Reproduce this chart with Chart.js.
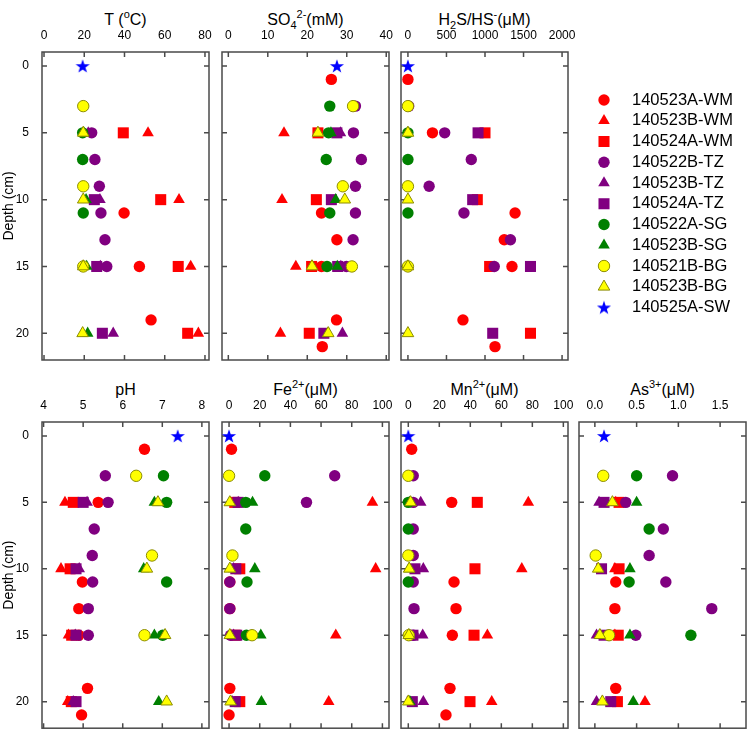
<!DOCTYPE html>
<html>
<head>
<meta charset="utf-8">
<title>Porewater profiles</title>
<script src="https://cdn.jsdelivr.net/npm/chart.js@4.4.1/dist/chart.umd.min.js"></script>
<style>
html, body { margin: 0; padding: 0; background: #fff; overflow: hidden; }
body { width: 750px; height: 736px; position: relative; font-family: "Liberation Sans", Arial, sans-serif; }
canvas { position: absolute; }
.ttl { position: absolute; width: 167px; text-align: center; font-size: 16px; line-height: 20px; color: #000; white-space: nowrap; }
.ttl sup, .ttl sub { font-size: 11px; line-height: 0; position: relative; vertical-align: baseline; }
.ttl sup { top: -7px; }
.ttl sub { top: 4px; }
</style>
</head>
<body>
<div class="ttl" style="left:42px;top:10px">T (<sup>o</sup>C)</div>
<div class="ttl" style="left:222px;top:10px">SO<sub>4</sub><sup>2-</sup>(mM)</div>
<div class="ttl" style="left:401px;top:10px">H<sub>2</sub>S/HS<sup>-</sup>(μM)</div>
<div class="ttl" style="left:42px;top:380px">pH</div>
<div class="ttl" style="left:222px;top:380px">Fe<sup>2+</sup>(μM)</div>
<div class="ttl" style="left:401px;top:380px">Mn<sup>2+</sup>(μM)</div>
<div class="ttl" style="left:579px;top:380px">As<sup>3+</sup>(μM)</div>

<canvas id="cT"></canvas>
<canvas id="cSO4"></canvas>
<canvas id="cH2S"></canvas>
<canvas id="cPH"></canvas>
<canvas id="cFe"></canvas>
<canvas id="cMn"></canvas>
<canvas id="cAs"></canvas>

<script>
// series (same order as the legend)
const seriesNames = ["140523A-WM", "140523B-WM", "140524A-WM", "140522B-TZ", "140523B-TZ",
  "140524A-TZ", "140522A-SG", "140523B-SG", "140521B-BG", "140523B-BG", "140525A-SW"];

// each panel: one list of [depth cm, value] per series
const tempPts = [
  [[11, 39.8], [15, 47.4], [19, 53.2]],
  [[5, 51.7], [10, 67.1], [15, 72.9], [20, 76.7]],
  [[5, 39.4], [10, 58], [15, 66.7], [20, 71.4]],
  [[5, 23.7], [7, 25.3], [9, 27.5], [11, 28.3], [13, 30.3], [15, 31.2]],
  [[5, 22], [10, 27.8], [15, 28], [20, 34.4]],
  [[10, 25], [15, 26.2], [20, 29]],
  [[5, 19.2], [7, 19.2], [11, 19.5]],
  [[5, 19.8], [10, 20.9], [15, 21.2], [20, 21.7]],
  [[3, 19.5], [9, 19.5], [15, 19.5]],
  [[5, 19.5], [10, 19.5], [15, 19.5], [20, 19.2]],
  [[0, 19.2]]
];
const so4Pts = [
  [[1, 26.1], [11, 23.6], [13, 27.5], [15, 23.6], [19, 27.4], [21, 23.8]],
  [[5, 14.1], [10, 13.6], [15, 17.1], [20, 13.2]],
  [[5, 22.7], [10, 22.3], [15, 21.1], [20, 20.5]],
  [[3, 32.2], [5, 31.7], [7, 33.7], [9, 32.2], [11, 32.2], [13, 31.6], [15, 29.9]],
  [[5, 28.4], [15, 28.5], [20, 28.9]],
  [[5, 27.5], [10, 26.1], [15, 27.7], [20, 24.2]],
  [[3, 25.7], [5, 25.4], [7, 24.8], [11, 25.7], [15, 25]],
  [[5, 26], [10, 27.2], [15, 27.6]],
  [[3, 31.6], [9, 29], [15, 31.3]],
  [[5, 22.7], [10, 29.5], [15, 21.2], [20, 25.3]],
  [[0, 27.5]]
];
const h2sPts = [
  [[1, 0], [5, 318], [11, 1390], [13, 1250], [15, 1350], [19, 714], [21, 1130]],
  [],
  [[5, 1000], [10, 900], [15, 1060], [20, 1590]],
  [[3, 10], [5, 477], [7, 822], [9, 275], [11, 727], [13, 1330], [15, 1120]],
  [],
  [[5, 910], [10, 840], [15, 1590], [20, 1100]],
  [[5, 0], [7, 0], [11, 0]],
  [[5, 0]],
  [[3, 0], [9, 0], [15, 0]],
  [[5, 0], [10, 0], [15, 0], [20, 0]],
  [[0, 0]]
];
const phPts = [
  [[1, 6.55], [5, 5.38], [11, 4.98], [13, 4.89], [15, 4.89], [19, 5.11], [21, 4.96]],
  [[5, 4.54], [10, 4.44], [15, 4.63], [20, 4.61]],
  [[5, 4.75], [10, 4.67], [15, 4.71], [20, 4.7]],
  [[3, 5.56], [5, 5.63], [7, 5.28], [9, 5.23], [11, 5.24], [13, 5.13], [15, 5.13]],
  [[5, 5.1], [10, 4.9], [15, 4.8], [20, 4.75]],
  [[5, 5.0], [10, 4.82], [15, 4.82], [20, 4.82]],
  [[3, 7.03], [5, 7.11], [11, 7.11], [15, 7.01]],
  [[5, 6.8], [10, 6.53], [15, 6.8], [20, 6.91]],
  [[3, 6.34], [9, 6.74], [15, 6.55]],
  [[5, 6.89], [10, 6.61], [15, 7.07], [20, 7.11]],
  [[0, 7.39]]
];
const fePts = [
  [[1, 1.6], [11, 0.5], [13, 0.5], [19, 0.5], [21, 0]],
  [[5, 93.5], [10, 95.6], [15, 69.6], [20, 65]],
  [[5, 3.7], [10, 7], [15, 4], [20, 7]],
  [[3, 68.9], [5, 50.5], [11, 0.5], [13, 0.5], [15, 1]],
  [[5, 6], [10, 3], [15, 3], [20, 2]],
  [[5, 5.9], [10, 4.4], [15, 5], [20, 4]],
  [[3, 23.3], [5, 10.9], [7, 10.9], [11, 11.7], [15, 11.3]],
  [[5, 15.3], [10, 16.8], [15, 20.7], [20, 21.1]],
  [[3, 0], [9, 2.2], [15, 15]],
  [[5, 0.5], [10, 0.5], [15, 0.5], [20, 1]],
  [[0, 0]]
];
const mnPts = [
  [[1, 2.2], [5, 28], [11, 29.5], [13, 30.8], [15, 28.4], [19, 26.9], [21, 24.3]],
  [[5, 77.4], [10, 73.2], [15, 51], [20, 53.8]],
  [[5, 44.5], [10, 43], [15, 42.4], [20, 39.8]],
  [[3, 3.2], [5, 3.2], [7, 3.2], [9, 3.2], [11, 3.2], [13, 3.7], [15, 3.2]],
  [[5, 8], [10, 9.7], [15, 9.3], [20, 9.7]],
  [[10, 4.3], [15, 3], [20, 2.6]],
  [[5, 0], [7, 0], [11, 0]],
  [[5, 0.8], [10, 0.5], [15, 0.5], [20, 1]],
  [[3, 0], [9, 0], [15, 0.3]],
  [[5, 1.5], [10, 0.6], [15, 0.3], [20, 0]],
  [[0, 0]]
];
const asPts = [
  [[11, 0.25], [13, 0.24], [19, 0.25]],
  [[5, 0.25], [10, 0.24], [15, 0.24], [20, 0.6]],
  [[5, 0.29], [10, 0.29], [15, 0.28], [20, 0.27]],
  [[3, 0.93], [5, 0.37], [7, 0.82], [9, 0.65], [11, 0.85], [13, 1.4], [15, 0.49]],
  [[5, 0.05], [15, 0.02], [20, 0.02]],
  [[5, 0.11], [10, 0.08], [15, 0.11], [20, 0.19]],
  [[3, 0.5], [7, 0.65], [11, 0.41], [15, 1.15]],
  [[5, 0.5], [10, 0.42], [15, 0.42], [20, 0.46]],
  [[3, 0.1], [9, 0.01], [15, 0.17]],
  [[5, 0.21], [10, 0.04], [15, 0.06], [20, 0.09]],
  [[0, 0.11]]
];

// tick labels
const depthTicks = [0, 5, 10, 15, 20];
const tTicks = [0, 20, 40, 60, 80];
const so4Ticks = [0, 10, 20, 30, 40];
const h2sTicks = [0, 500, 1000, 1500, 2000];
const phTicks = [4, 5, 6, 7, 8];
const feTicks = [0, 20, 40, 60, 80, 100];
const mnTicks = [0, 20, 40, 60, 80, 100];
const asTicks = [0, 0.5, 1, 1.5];

// styles
const seriesColors = ["#ff0000", "#ff0000", "#ff0000", "#800080", "#800080", "#800080",
  "#008000", "#008000", "#ffff00", "#ffff00", "#0000ff"];
const seriesShapes = ["circle", "triangle", "rect", "circle", "triangle", "rect",
  "circle", "triangle", "circle", "triangle", "star"];
const shapeRadius = { circle: 5.7, triangle: 6.7, rect: 7.8, star: 7 };
const FONT = '"Liberation Sans", Arial, sans-serif';

Chart.defaults.font.family = FONT;
Chart.defaults.color = "#000";

// filled 5 point star (Chart's own 'star' is only lines)
const starImg = document.createElement("canvas");
starImg.width = 16;
starImg.height = 16;
(function () {
  const c = starImg.getContext("2d");
  c.fillStyle = "#0000ff";
  c.beginPath();
  for (let k = 0; k < 10; k++) {
    const r = k % 2 ? 2.9 : 7.4;
    const a = -Math.PI / 2 + k * Math.PI / 5;
    c.lineTo(8 + r * Math.cos(a), 8.6 + r * Math.sin(a));
  }
  c.closePath();
  c.fill();
})();

function styleOf(i) {
  return seriesShapes[i] == "star" ? starImg : seriesShapes[i];
}

function makeSets(pts) {
  return pts.map((arr, i) => {
    const yellow = seriesColors[i] == "#ffff00";
    return {
      label: seriesNames[i],
      data: arr.map((p) => ({ x: p[1], y: p[0] })),
      pointStyle: styleOf(i),
      pointRadius: shapeRadius[seriesShapes[i]],
      pointHoverRadius: shapeRadius[seriesShapes[i]],
      backgroundColor: seriesColors[i],
      borderColor: yellow ? "#8c8c00" : seriesColors[i],
      borderWidth: yellow ? 1 : 0,
      order: pts.length - i, // later series on top
      clip: false
    };
  });
}

// box round the plot with ticks pointing inward on all sides
const framePlugin = {
  id: "frame",
  beforeDatasetsDraw(chart) {
    const { ctx, chartArea: a, scales } = chart;
    ctx.save();
    ctx.strokeStyle = "#4a4a4a";
    ctx.lineWidth = 1.5;
    ctx.strokeRect(a.left, a.top, a.right - a.left, a.bottom - a.top);
    ctx.beginPath();
    scales.x.ticks.forEach((t) => {
      const px = scales.x.getPixelForValue(t.value);
      ctx.moveTo(px, a.top);
      ctx.lineTo(px, a.top + 5);
      ctx.moveTo(px, a.bottom);
      ctx.lineTo(px, a.bottom - 5);
    });
    scales.y.ticks.forEach((t) => {
      const py = scales.y.getPixelForValue(t.value);
      ctx.moveTo(a.left, py);
      ctx.lineTo(a.left + 5, py);
      ctx.moveTo(a.right, py);
      ctx.lineTo(a.right - 5, py);
    });
    ctx.stroke();
    ctx.restore();
  }
};

// legend to the right of the H2S panel
const legendPlugin = {
  id: "sideLegend",
  afterDraw(chart) {
    const ctx = chart.ctx;
    const mx = chart.chartArea.right + 36;
    const tx = chart.chartArea.right + 64;
    ctx.save();
    ctx.font = "16.5px " + FONT;
    ctx.textBaseline = "middle";
    seriesNames.forEach((name, i) => {
      const y = 100 + i * 20.75;
      const yellow = seriesColors[i] == "#ffff00";
      ctx.fillStyle = seriesColors[i];
      ctx.strokeStyle = yellow ? "#8c8c00" : seriesColors[i];
      ctx.lineWidth = 1;
      Chart.helpers.drawPoint(ctx, {
        pointStyle: styleOf(i),
        radius: shapeRadius[seriesShapes[i]],
        rotation: 0,
        borderWidth: yellow ? 1 : 0
      }, mx, y);
      ctx.fillStyle = "#000";
      ctx.fillText(name, tx, y);
    });
    ctx.restore();
  }
};

const panels = [
  { id: "cT", pts: tempPts, ticks: tTicks, min: -1, max: 82, left: 42, row: 0, dec: 0 },
  { id: "cSO4", pts: so4Pts, ticks: so4Ticks, min: -1.6, max: 40.7, left: 222, row: 0, dec: 0 },
  { id: "cH2S", pts: h2sPts, ticks: h2sTicks, min: -90, max: 2077, left: 401, row: 0, dec: 0, legend: true },
  { id: "cPH", pts: phPts, ticks: phTicks, min: 3.96, max: 8.18, left: 42, row: 1, dec: 0 },
  { id: "cFe", pts: fePts, ticks: feTicks, min: -4.6, max: 104.3, left: 222, row: 1, dec: 0 },
  { id: "cMn", pts: mnPts, ticks: mnTicks, min: -4.7, max: 103, left: 401, row: 1, dec: 0 },
  { id: "cAs", pts: asPts, ticks: asTicks, min: -0.19, max: 1.81, left: 579, row: 1, dec: 1 }
];

const PLOT_W = 167;
const AXIS_W = 42;
const TOP_H = 52;

panels.forEach((p) => {
  const canvas = document.getElementById(p.id);
  const padR = p.legend ? 750 - (p.left + PLOT_W) : 10;
  const w = AXIS_W + PLOT_W + padR;
  const h = p.row ? 366 : 370;
  const padB = p.row ? 7 : 10;
  const first = p.left == 42;
  canvas.width = w;
  canvas.height = h;
  canvas.style.left = (p.left - AXIS_W) + "px";
  canvas.style.top = (p.row ? 370 : 0) + "px";

  new Chart(canvas, {
    type: "scatter",
    data: { datasets: makeSets(p.pts) },
    options: {
      responsive: false,
      animation: false,
      devicePixelRatio: 1,
      layout: { padding: { left: 0, right: padR, top: 0, bottom: padB } },
      plugins: { legend: { display: false }, tooltip: { enabled: false } },
      scales: {
        x: {
          type: "linear",
          position: "top",
          min: p.min,
          max: p.max,
          grid: { display: false },
          border: { display: false },
          ticks: {
            autoSkip: false,
            maxRotation: 0,
            padding: 1,
            color: "#000",
            font: { size: 12 },
            callback: (v) => Number(v).toFixed(p.dec)
          },
          afterBuildTicks: (s) => { s.ticks = p.ticks.map((v) => ({ value: v })); },
          afterFit: (s) => { s.height = TOP_H; s.paddingLeft = 0; s.paddingRight = 0; }
        },
        y: {
          type: "linear",
          reverse: true,
          min: -1.05,
          max: 22,
          grid: { display: false },
          border: { display: false },
          ticks: {
            display: first,
            autoSkip: false,
            padding: 5,
            color: "#000",
            font: { size: 12 }
          },
          title: {
            display: first,
            text: "Depth (cm)",
            color: "#000",
            font: { size: 14 },
            padding: { top: 1, bottom: 0 }
          },
          afterBuildTicks: (s) => { s.ticks = depthTicks.map((v) => ({ value: v })); },
          afterFit: (s) => { s.width = AXIS_W; s.paddingTop = 0; s.paddingBottom = 0; }
        }
      }
    },
    plugins: p.legend ? [framePlugin, legendPlugin] : [framePlugin]
  });
});
</script>
</body>
</html>
